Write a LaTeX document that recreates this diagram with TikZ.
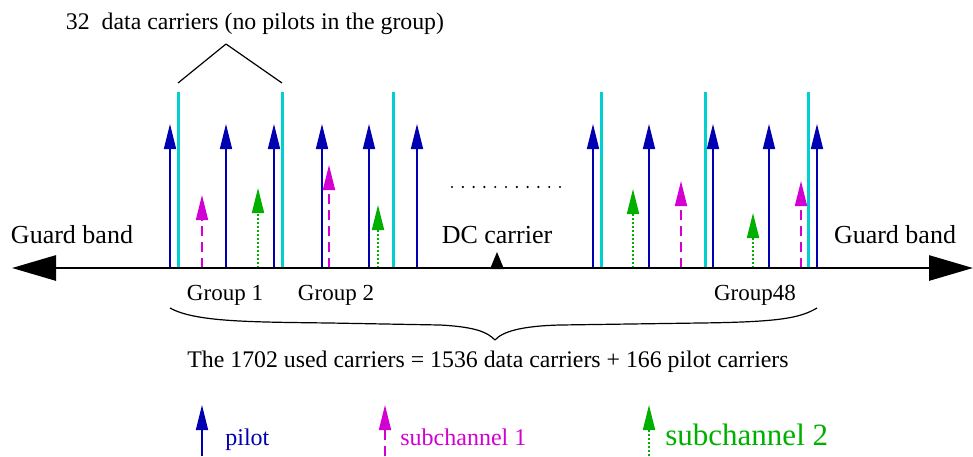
\documentclass[tikz,border=0pt]{standalone}
\usepackage{fontspec}
\setmainfont{Liberation Serif}
\usetikzlibrary{arrows.meta}
\definecolor{pilotblue}{RGB}{0,0,178}
\definecolor{submag}{RGB}{210,0,210}
\definecolor{subgreen}{RGB}{0,176,0}
\definecolor{edgecyan}{RGB}{0,208,208}

\begin{document}
\begin{tikzpicture}[x=0.5pt,y=-0.5pt,line join=round,
	tip/.style={-{Triangle[length=12.5pt,width=6pt]}},
	pilot/.style={tip,pilotblue,line width=0.8pt},
	subone/.style={tip,submag,line width=0.8pt,dash pattern=on 5pt off 3pt},
	subtwo/.style={tip,subgreen,line width=0.9pt,dash pattern=on 1pt off 1pt},
	groupedge/.style={edgecyan,line width=1.5pt},
	lbl/.style={inner sep=0pt,anchor=base}]
	\useasboundingbox (0,0) rectangle (973,456);
	% group borders
	\foreach \x in {178,282,393,601,705,808}
		\draw [groupedge] (\x,268)-- (\x,92);
	% carriers
	\foreach \x in {170,226,274,322,369,417,593,649,713,769,817}
		\draw [pilot] (\x,268)-- (\x,124);
	\foreach \x/\y in {202/195,329/165,681/181,801/181}
		\draw [subone] (\x,268)-- (\x,\y);
	\foreach \x/\y in {258/188,378/205,633/189,753/213}
		\draw [subtwo] (\x,268)-- (\x,\y);
	% frequency axis
	\coordinate (axl) at (12,268);
	\coordinate (axr) at (973,268);
	\draw [line width=1.4pt,{Triangle[length=22pt,width=12.5pt]}-{Triangle[length=22pt,width=12.5pt]}] (axl)-- (axr);
	\fill (497,252)-- (504,269)-- (490,269)-- cycle;
	\foreach \i in {0,...,10}
		\fill (452+10.8*\i,187) circle (0.6pt);
	% wedge and brace
	\draw [line width=0.6pt] (178,83)-- (226,44)-- (282,83);
	\draw [line width=0.6pt] (170,308) .. controls (195,322) and (250,322) .. (330,323)
		-- (440,325) .. controls (478,327) and (488,333) .. (495,340)
		.. controls (502,332) and (520,326) .. (560,325)
		-- (700,323) .. controls (780,322) and (800,318) .. (817,308);
	% labels
	\node [lbl,font=\fontsize{11.9pt}{13pt}\selectfont] (topnote) at (255,29) {32~~data carriers (no pilots in the group)};
	\node [lbl,font=\fontsize{13pt}{15pt}\selectfont] (guardl) at (72,243) {Guard band};
	\node [lbl,font=\fontsize{13pt}{15pt}\selectfont] (guardr) at (895,243) {Guard band};
	\node [lbl,font=\fontsize{13pt}{15pt}\selectfont] (dc) at (497,243) {DC carrier};
	\node [lbl,font=\fontsize{11.5pt}{13pt}\selectfont] (grpone) at (225,300) {Group 1};
	\node [lbl,font=\fontsize{11.5pt}{13pt}\selectfont] (grptwo) at (336,300) {Group 2};
	\node [lbl,font=\fontsize{11.5pt}{13pt}\selectfont] (grplast) at (755,300) {Group48};
	\node [lbl,font=\fontsize{11.9pt}{13pt}\selectfont] (total) at (488,367) {The 1702 used carriers = 1536 data carriers + 166 pilot carriers};
	% legend
	\draw [pilot] (202,456)-- (202,405);
	\draw [subone] (385,456)-- (385,405);
	\draw [subtwo] (649,456)-- (649,405);
	\node [lbl,anchor=base west,pilotblue,font=\fontsize{12pt}{14pt}\selectfont] (legpilot) at (225,445) {pilot};
	\node [lbl,anchor=base west,submag,font=\fontsize{12pt}{14pt}\selectfont] (legone) at (400,445) {subchannel 1};
	\node [lbl,anchor=base west,subgreen,font=\fontsize{15.5pt}{18pt}\selectfont] (legtwo) at (665,445) {subchannel 2};
\end{tikzpicture}
\end{document}
